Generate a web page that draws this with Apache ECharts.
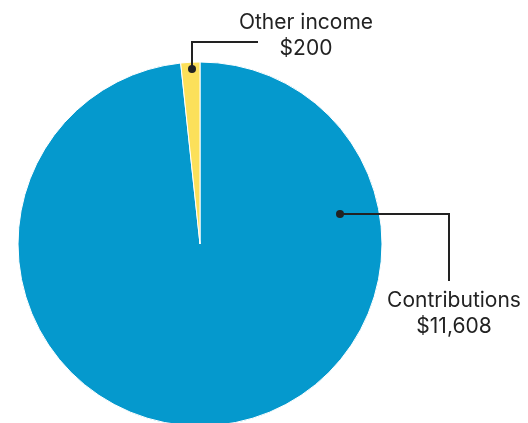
<!DOCTYPE html>
<html><head><meta charset="utf-8">
<script src="https://cdn.jsdelivr.net/npm/echarts@6/dist/echarts.min.js"></script>
<style>html,body{margin:0;padding:0;background:#fff}#c{width:528px;height:423px}</style>
</head><body><div id="c"></div>
<script>
const categories = ['Contributions', 'Other income'];
const values = [11608, 200];
const colors = ['#0599CD', '#FCE05A'];

const chart = echarts.init(document.getElementById('c'));
const fmt = v => '$' + v.toLocaleString('en-US');
const labelSpots = [
  {x: 454, y: 314, line: [[340, 214], [449, 214], [449, 281]]},
  {x: 306, y: 36, line: [[192, 69], [192, 42], [258, 42]]}
];
chart.setOption({
  animation: false,
  series: [{
    type: 'pie',
    center: [200, 244],
    radius: 182,
    startAngle: 90,
    clockwise: true,
    itemStyle: {borderColor: '#fff', borderWidth: 1},
    label: {
      show: true,
      formatter: p => p.name + '\n' + fmt(p.value),
      fontFamily: 'Inter, Roboto, sans-serif',
      fontSize: 21,
      lineHeight: 26,
      color: '#222',
      align: 'center'
    },
    labelLine: {show: false},
    labelLayout: p => {
      const s = labelSpots[p.dataIndex];
      return {x: s.x, y: s.y, align: 'center', verticalAlign: 'middle'};
    },
    data: categories.map((c, i) => ({name: c, value: values[i], itemStyle: {color: colors[i]}}))
  }],
  graphic: labelSpots.flatMap(s => [
    {type: 'polyline', shape: {points: s.line}, style: {stroke: '#222', lineWidth: 2, fill: null}, z: 100},
    {type: 'circle', shape: {cx: s.line[0][0], cy: s.line[0][1], r: 4}, style: {fill: '#222'}, z: 101}
  ])
});
</script></body></html>
